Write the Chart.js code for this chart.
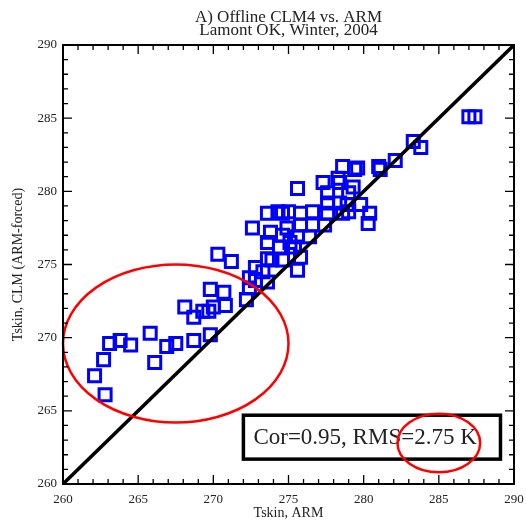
<!DOCTYPE html>
<html lang="en">
<head>
<meta charset="UTF-8">
<title>Offline CLM4 vs. ARM</title>
<script src="https://cdn.jsdelivr.net/npm/chart.js"></script>
<style>
    body { margin: 0; background: #fff; }
    #wrap { width: 526px; height: 520px; }
</style>
</head>
<body>
<div id="wrap"><canvas id="chart" width="526" height="520"></canvas></div>
<script>
// chart text
const titleLines = ['A) Offline CLM4 vs. ARM', 'Lamont OK, Winter, 2004'];
const xTitle = 'Tskin, ARM';
const yTitle = 'Tskin, CLM (ARM-forced)';
const statsText = 'Cor=0.95, RMS=2.75 K';

// axis range and labelled ticks
const axisMin = 260;
const axisMax = 290;
const tickValues = [260, 265, 270, 275, 280, 285, 290];

// skin temperature pairs (K)
const armTskin = [
    262.1, 262.7, 263.1, 263.8, 264.5, 262.8, 265.8, 266.1, 266.9, 267.5,
    268.7, 269.8, 268.1, 268.7, 269.3, 269.8, 270.7, 270.0, 270.8, 269.7,
    272.2, 272.4, 270.3, 271.2, 272.4, 272.8, 272.6, 272.8, 273.3, 273.6,
    273.6, 273.9, 273.6, 273.8, 273.6, 274.3, 274.6, 275.0, 274.4, 274.6,
    275.1, 275.4, 275.6, 274.6, 274.9, 275.6, 275.8, 275.8, 275.8, 276.4,
    276.6, 276.6, 275.6, 277.4, 277.6, 277.6, 277.3, 277.6, 278.4, 278.4,
    278.6, 279.0, 279.0, 278.3, 278.6, 279.4, 279.6, 278.9, 279.8, 280.4,
    280.3, 281.0, 281.1, 282.1, 283.3, 283.8, 287.0, 287.4, 279.3
];
const clmTskin = [
    267.4, 268.5, 269.6, 269.8, 269.5, 266.1, 270.3, 268.3, 269.4, 269.6,
    269.8, 270.2, 272.1, 271.4, 271.8, 273.3, 273.1, 272.1, 272.2, 271.8,
    272.6, 274.1, 275.7, 275.2, 273.4, 273.9, 277.5, 274.8, 274.5, 273.8,
    275.4, 275.3, 276.5, 277.2, 278.5, 278.6, 278.5, 278.6, 276.2, 275.3,
    276.5, 276.2, 274.6, 277.0, 277.5, 276.9, 277.7, 278.5, 275.5, 276.9,
    277.7, 278.6, 280.2, 277.7, 278.5, 279.2, 280.6, 279.9, 280.6, 279.2,
    278.5, 279.9, 278.6, 280.9, 281.7, 281.5, 281.6, 279.1, 279.1, 278.5,
    277.8, 281.7, 281.5, 282.1, 283.4, 283.0, 285.1, 285.1, 280.3
];

// 1:1 reference line
const oneToOne = [260, 290];

const points = armTskin.map((x, i) => ({ x: x, y: clmTskin[i] }));
const diag = oneToOne.map(v => ({ x: v, y: v }));

const serif = '"Liberation Serif", "DejaVu Serif", serif';

function drawEllipses(ctx, xs, ys, list) {
    ctx.strokeStyle = '#ff0000';
    ctx.lineWidth = 2.5;
    list.forEach(e => {
        const cx = xs.getPixelForValue(e.cx), cy = ys.getPixelForValue(e.cy);
        const rx = Math.abs(xs.getPixelForValue(e.cx + e.rx) - cx);
        const ry = Math.abs(ys.getPixelForValue(e.cy + e.ry) - cy);
        ctx.beginPath();
        ctx.ellipse(cx, cy, rx, ry, 0, 0, Math.PI * 2);
        ctx.stroke();
    });
}

// frame, inward ticks, title, red highlight ellipses and the stats box
const framePlugin = {
    id: 'frame',
    afterDraw(chart, args, opts) {
        const ctx = chart.ctx;
        const xs = chart.scales.x, ys = chart.scales.y;
        const a = chart.chartArea;
        ctx.save();

        drawEllipses(ctx, xs, ys, opts.ellipses);

        // stats box
        const b = opts.box;
        const bx1 = xs.getPixelForValue(b.x1), bx2 = xs.getPixelForValue(b.x2);
        const by1 = ys.getPixelForValue(b.y1), by2 = ys.getPixelForValue(b.y2);
        ctx.fillStyle = '#fff';
        ctx.fillRect(bx1, by1, bx2 - bx1, by2 - by1);
        ctx.strokeStyle = '#000';
        ctx.lineWidth = 3.5;
        ctx.strokeRect(bx1, by1, bx2 - bx1, by2 - by1);
        ctx.fillStyle = '#222';
        ctx.font = '23px ' + serif;
        ctx.textBaseline = 'middle';
        ctx.textAlign = 'left';
        ctx.fillText(statsText, bx1 + 10, (by1 + by2) / 2 + 1);

        // small red ellipse sits over the box
        drawEllipses(ctx, xs, ys, opts.overEllipses);

        // frame
        ctx.strokeStyle = '#000';
        ctx.lineWidth = 2;
        ctx.strokeRect(a.left, a.top, a.right - a.left, a.bottom - a.top);

        // inward ticks on all sides
        ctx.lineWidth = 1.3;
        ctx.beginPath();
        for (let v = axisMin; v <= axisMax; v++) {
            const len = v % 5 === 0 ? 9 : 5;
            const px = xs.getPixelForValue(v);
            const py = ys.getPixelForValue(v);
            ctx.moveTo(px, a.bottom); ctx.lineTo(px, a.bottom - len);
            ctx.moveTo(px, a.top); ctx.lineTo(px, a.top + len);
            ctx.moveTo(a.left, py); ctx.lineTo(a.left + len, py);
            ctx.moveTo(a.right, py); ctx.lineTo(a.right - len, py);
        }
        ctx.stroke();

        // title
        ctx.fillStyle = '#222';
        ctx.font = '17px ' + serif;
        ctx.textAlign = 'center';
        ctx.textBaseline = 'alphabetic';
        const mid = (a.left + a.right) / 2;
        ctx.fillText(titleLines[0], mid, 22);
        ctx.fillText(titleLines[1], mid, 35);
        ctx.restore();
    }
};

new Chart(document.getElementById('chart'), {
    type: 'scatter',
    data: {
        datasets: [
            {
                type: 'line',
                data: diag,
                borderColor: '#000',
                borderWidth: 3.5,
                pointRadius: 0,
                fill: false,
                order: 0
            },
            {
                data: points,
                pointStyle: 'rect',
                pointRadius: 8.5,
                pointHoverRadius: 8.5,
                borderColor: '#0000ff',
                backgroundColor: 'rgba(0,0,0,0)',
                pointBorderWidth: 3,
                borderWidth: 3,
                order: 1
            }
        ]
    },
    options: {
        responsive: false,
        animation: false,
        layout: { padding: { top: 45, right: 12, left: 0, bottom: 0 } },
        plugins: {
            legend: { display: false },
            tooltip: { enabled: false },
            frame: {
                ellipses: [{ cx: 267.5, cy: 269.6, rx: 7.5, ry: 5.4 }],
                overEllipses: [{ cx: 285.0, cy: 262.8, rx: 2.75, ry: 2.0 }],
                box: { x1: 272.0, x2: 289.1, y1: 264.7, y2: 261.7 }
            }
        },
        scales: {
            x: {
                type: 'linear',
                min: axisMin,
                max: axisMax,
                grid: { display: false, drawTicks: false },
                border: { display: false },
                afterBuildTicks: s => { s.ticks = tickValues.map(v => ({ value: v })); },
                afterFit: s => { s.height = 36; s.paddingLeft = 0; s.paddingRight = 0; },
                ticks: {
                    padding: 8,
                    color: '#222',
                    font: { family: serif, size: 13 },
                    maxRotation: 0
                },
                title: {
                    display: true,
                    text: xTitle,
                    color: '#222',
                    padding: { top: 0, bottom: 0 },
                    font: { family: serif, size: 14, lineHeight: 1 }
                }
            },
            y: {
                type: 'linear',
                min: axisMin,
                max: axisMax,
                grid: { display: false, drawTicks: false },
                border: { display: false },
                afterBuildTicks: s => { s.ticks = tickValues.map(v => ({ value: v })); },
                afterFit: s => { s.width = 63; s.paddingTop = 0; s.paddingBottom = 0; },
                ticks: {
                    padding: 6,
                    color: '#222',
                    font: { family: serif, size: 13 }
                },
                title: {
                    display: true,
                    text: yTitle,
                    color: '#222',
                    padding: { top: 10, bottom: 0 },
                    font: { family: serif, size: 14, lineHeight: 1.2 }
                }
            }
        }
    },
    plugins: [framePlugin]
});
</script>
</body>
</html>
